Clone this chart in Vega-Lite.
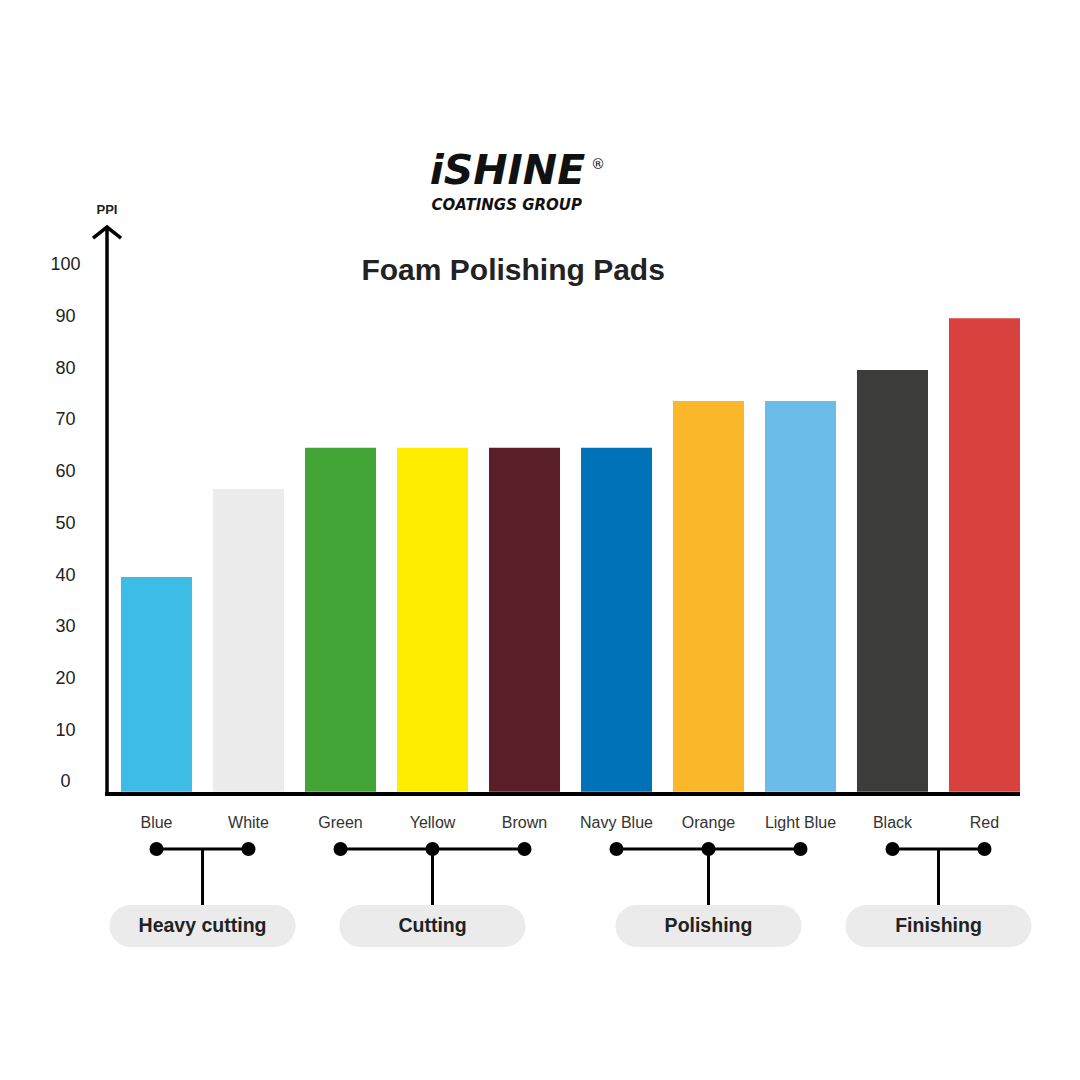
{
  "$schema": "https://vega.github.io/schema/vega-lite/v6.json",
  "width": 939,
  "height": 724.36,
  "autosize": {"type": "none"},
  "padding": {"left": 101, "top": 225.2, "right": 40, "bottom": 130.44},
  "background": "white",
  "config": {"view": {"stroke": null}, "font": "Liberation Sans"},
  "datasets": {
    "pads": [
      {"pad": "Blue", "ppi": 40, "group": "Heavy cutting"},
      {"pad": "White", "ppi": 57, "group": "Heavy cutting"},
      {"pad": "Green", "ppi": 65, "group": "Cutting"},
      {"pad": "Yellow", "ppi": 65, "group": "Cutting"},
      {"pad": "Brown", "ppi": 65, "group": "Cutting"},
      {"pad": "Navy Blue", "ppi": 65, "group": "Polishing"},
      {"pad": "Orange", "ppi": 74, "group": "Polishing"},
      {"pad": "Light Blue", "ppi": 74, "group": "Polishing"},
      {"pad": "Black", "ppi": 80, "group": "Finishing"},
      {"pad": "Red", "ppi": 90, "group": "Finishing"}
    ],
    "groups": [
      {"group": "Heavy cutting", "from": "Blue", "to": "White", "size": 2},
      {"group": "Cutting", "from": "Green", "mid": "Yellow", "to": "Brown", "size": 3},
      {"group": "Polishing", "from": "Navy Blue", "mid": "Orange", "to": "Light Blue", "size": 3},
      {"group": "Finishing", "from": "Black", "to": "Red", "size": 2}
    ],
    "one": [{}]
  },
  "layer": [
    {
      "data": {"name": "pads"},
      "mark": {"type": "bar"},
      "encoding": {
        "x": {"field": "pad", "type": "nominal", "sort": null,
          "scale": {"domain": ["Blue", "White", "Green", "Yellow", "Brown", "Navy Blue", "Orange", "Light Blue", "Black", "Red"], "paddingInner": 0.228, "paddingOuter": 0.2174, "align": 0.5},
          "axis": null},
        "y": {"field": "ppi", "type": "quantitative",
          "scale": {"domain": [-32, 108], "nice": false, "zero": false},
          "axis": {"values": [0, 10, 20, 30, 40, 50, 60, 70, 80, 90, 100], "title": null, "domain": false, "ticks": false, "tickSize": 0, "grid": false, "labelPadding": 36, "labelAlign": "center", "labelFontSize": 18, "labelColor": "#222222", "labelOffset": -2, "labelFont": "Liberation Sans"}},
        "y2": {"datum": -1.5},
        "color": {"field": "pad", "type": "nominal", "legend": null,
          "scale": {"domain": ["Blue", "White", "Green", "Yellow", "Brown", "Navy Blue", "Orange", "Light Blue", "Black", "Red"],
            "range": ["#3dbde6", "#ececec", "#42a536", "#ffed00", "#5a1e28", "#0072b8", "#fbb72a", "#6bbce9", "#3c3c3b", "#d9413e"]}}
      }
    },
    {
      "data": {"name": "one"},
      "mark": {"type": "rule", "color": "#000000", "strokeWidth": 4},
      "encoding": {
        "x": {"datum": "Blue", "type": "nominal", "bandPosition": -0.225},
        "x2": {"datum": "Red", "bandPosition": 1},
        "y": {"datum": -1.93, "type": "quantitative"}
      }
    },
    {
      "data": {"name": "one"},
      "mark": {"type": "rule", "color": "#000000", "strokeWidth": 3.5},
      "encoding": {
        "x": {"datum": "Blue", "type": "nominal", "bandPosition": -0.197},
        "y": {"datum": -2.3, "type": "quantitative"},
        "y2": {"datum": 107.4}
      }
    },
    {
      "data": {"name": "one"},
      "mark": {"type": "point", "shape": "M-1,0.786L0,0L1,0.786", "filled": false, "stroke": "#000000", "strokeWidth": 3.5, "size": 784, "opacity": 1, "strokeJoin": "miter"},
      "encoding": {
        "x": {"datum": "Blue", "type": "nominal", "bandPosition": -0.197},
        "y": {"datum": 107.65, "type": "quantitative"}
      }
    },
    {
      "data": {"name": "one"},
      "mark": {"type": "text", "text": "PPI", "fontSize": 13, "fontWeight": "bold", "color": "#222222", "baseline": "middle", "align": "center"},
      "encoding": {
        "x": {"datum": "Blue", "type": "nominal", "bandPosition": -0.197},
        "y": {"datum": 110.9, "type": "quantitative"}
      }
    },
    {
      "data": {"name": "pads"},
      "mark": {"type": "text", "fontSize": 16, "color": "#333333", "baseline": "middle", "align": "center"},
      "encoding": {
        "x": {"field": "pad", "type": "nominal"},
        "y": {"datum": -7.54, "type": "quantitative"},
        "text": {"field": "pad"}
      }
    },
    {
      "data": {"name": "groups"},
      "mark": {"type": "rule", "color": "#000000", "strokeWidth": 3},
      "encoding": {
        "x": {"field": "from", "type": "nominal"},
        "x2": {"field": "to"},
        "y": {"datum": -12.56, "type": "quantitative"}
      }
    },
    {
      "data": {"name": "pads"},
      "mark": {"type": "point", "shape": "circle", "filled": true, "color": "#000000", "size": 196, "opacity": 1},
      "encoding": {
        "x": {"field": "pad", "type": "nominal"},
        "y": {"datum": -12.56, "type": "quantitative"}
      }
    },
    {
      "data": {"name": "groups"},
      "transform": [{"filter": "datum.size == 3"}],
      "mark": {"type": "rule", "color": "#000000", "strokeWidth": 3},
      "encoding": {
        "x": {"field": "mid", "type": "nominal"},
        "y": {"datum": -12.56, "type": "quantitative"},
        "y2": {"datum": -23.39}
      }
    },
    {
      "data": {"name": "groups"},
      "transform": [{"filter": "datum.size == 2"}],
      "mark": {"type": "rule", "color": "#000000", "strokeWidth": 3},
      "encoding": {
        "x": {"field": "from", "type": "nominal", "bandPosition": 1.148},
        "y": {"datum": -12.56, "type": "quantitative"},
        "y2": {"datum": -23.39}
      }
    },
    {
      "data": {"name": "groups"},
      "transform": [{"filter": "datum.size == 3"}],
      "mark": {"type": "point", "shape": "M-0.7742,-0.2258L0.7742,-0.2258A0.2258,0.2258 0 0 1 0.7742,0.2258L-0.7742,0.2258A0.2258,0.2258 0 0 1 -0.7742,-0.2258Z", "filled": true, "fill": "#ebebeb", "strokeWidth": 0, "size": 34596, "opacity": 1},
      "encoding": {
        "x": {"field": "mid", "type": "nominal"},
        "y": {"datum": -27.44, "type": "quantitative"}
      }
    },
    {
      "data": {"name": "groups"},
      "transform": [{"filter": "datum.size == 2"}],
      "mark": {"type": "point", "shape": "M-0.7742,-0.2258L0.7742,-0.2258A0.2258,0.2258 0 0 1 0.7742,0.2258L-0.7742,0.2258A0.2258,0.2258 0 0 1 -0.7742,-0.2258Z", "filled": true, "fill": "#ebebeb", "strokeWidth": 0, "size": 34596, "opacity": 1},
      "encoding": {
        "x": {"field": "from", "type": "nominal", "bandPosition": 1.148},
        "y": {"datum": -27.44, "type": "quantitative"}
      }
    },
    {
      "data": {"name": "groups"},
      "transform": [{"filter": "datum.size == 3"}],
      "mark": {"type": "text", "fontSize": 19.5, "fontWeight": "bold", "color": "#222222", "baseline": "middle", "align": "center"},
      "encoding": {
        "x": {"field": "mid", "type": "nominal"},
        "y": {"datum": -27.44, "type": "quantitative"},
        "text": {"field": "group"}
      }
    },
    {
      "data": {"name": "groups"},
      "transform": [{"filter": "datum.size == 2"}],
      "mark": {"type": "text", "fontSize": 19.5, "fontWeight": "bold", "color": "#222222", "baseline": "middle", "align": "center"},
      "encoding": {
        "x": {"field": "from", "type": "nominal", "bandPosition": 1.148},
        "y": {"datum": -27.44, "type": "quantitative"},
        "text": {"field": "group"}
      }
    },
    {
      "data": {"name": "one"},
      "mark": {"type": "text", "text": "Foam Polishing Pads", "fontSize": 30, "fontWeight": "bold", "color": "#222222", "baseline": "alphabetic", "align": "center"},
      "encoding": {
        "x": {"datum": "Brown", "type": "nominal", "bandPosition": 0.34},
        "y": {"datum": 97.4, "type": "quantitative"}
      }
    },
    {
      "data": {"name": "one"},
      "mark": {"type": "text", "text": "iSHINE", "font": "DejaVu Sans", "fontSize": 41, "fontWeight": "bold", "fontStyle": "italic", "color": "#111111", "baseline": "alphabetic", "align": "center"},
      "encoding": {
        "x": {"datum": "Brown", "type": "nominal", "bandPosition": 0.26},
        "y": {"datum": 116.0, "type": "quantitative"}
      }
    },
    {
      "data": {"name": "one"},
      "mark": {"type": "text", "text": "COATINGS GROUP", "font": "DejaVu Sans", "fontSize": 15, "fontWeight": "bold", "fontStyle": "italic", "color": "#111111", "baseline": "alphabetic", "align": "center"},
      "encoding": {
        "x": {"datum": "Brown", "type": "nominal", "bandPosition": 0.25},
        "y": {"datum": 110.9, "type": "quantitative"}
      }
    },
    {
      "data": {"name": "one"},
      "mark": {"type": "text", "text": "®", "font": "DejaVu Sans", "fontSize": 14, "color": "#111111", "baseline": "middle", "align": "left"},
      "encoding": {
        "x": {"datum": "Navy Blue", "type": "nominal", "bandPosition": 0.14},
        "y": {"datum": 119.7, "type": "quantitative"}
      }
    }
  ]
}
